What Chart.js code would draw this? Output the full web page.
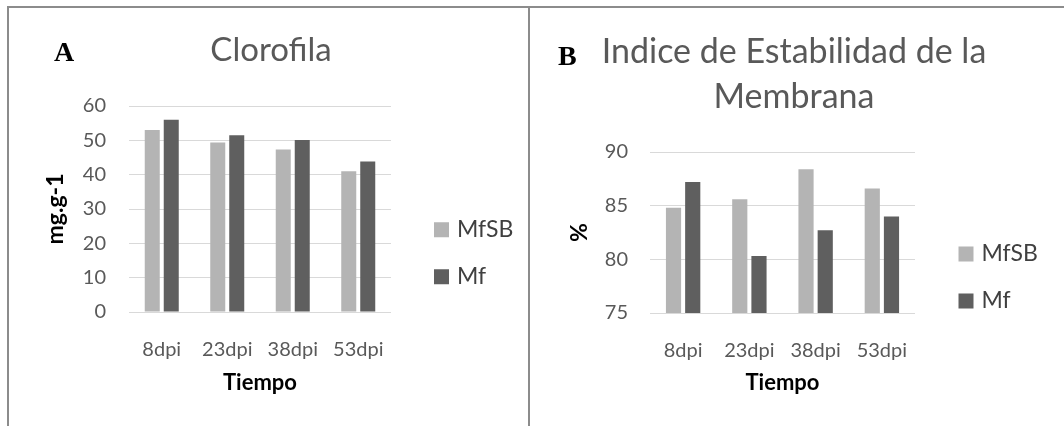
<!DOCTYPE html>
<html>
<head>
<meta charset="utf-8">
<script src="https://cdn.jsdelivr.net/npm/chart.js@4.4.0/dist/chart.umd.min.js"></script>
<style>
  body { margin: 0; background: #fff; width: 1064px; height: 426px; overflow: hidden; position: relative; }
  .frame { position: absolute; border: 0 solid #8c8c8c; }
  #frameA { left: 7px; top: 6px; width: 519px; height: 440px; border-width: 2px 2px 0 2px; }
  #frameB { left: 528px; top: 6px; width: 540px; height: 0; border-top-width: 2px; }
  canvas { position: absolute; top: 0; }
  #chartA { left: 0; }
  #chartB { left: 529px; }
  .tag { position: absolute; font: bold 28px "Liberation Serif", serif; line-height: 28px; color: #000; }
</style>
</head>
<body>
<div class="frame" id="frameA"></div>
<div class="frame" id="frameB"></div>
<canvas id="chartA" width="529" height="426"></canvas>
<canvas id="chartB" width="535" height="426"></canvas>
<div class="tag" style="left:54px;top:38px">A</div>
<div class="tag" style="left:558px;top:42px">B</div>
<script>
const categories = ['8dpi', '23dpi', '38dpi', '53dpi'];
const seriesNames = ['MfSB', 'Mf'];
const seriesColors = ['#b4b4b4', '#5f5f5f'];

// A - Clorofila (mg.g-1)
const clorofilaMfSB = [53.0, 49.4, 47.3, 41.0];
const clorofilaMf = [56.0, 51.5, 50.1, 43.8];
const clorofilaAxis = [0, 60, 10]; // min, max, paso

// B - Indice de Estabilidad de la Membrana (%)
const estabilidadMfSB = [84.8, 85.6, 88.4, 86.6];
const estabilidadMf = [87.2, 80.3, 82.7, 84.0];
const estabilidadAxis = [75, 90, 5];

const tickColor = '#595959';
const font = 'Lato';

// mueve leyenda y titulo despues del layout
const nudge = {
    id: 'nudge',
    afterLayout(chart, args, opts) {
        const l = chart.legend, t = chart.titleBlock;
        if (l && opts.legend) {
            l.left += opts.legend[0];
            l.right += opts.legend[0] + 40; // espacio para el texto
            l.width = l.right - l.left;
            l.top += opts.legend[1]; l.bottom += opts.legend[1];
        }
        if (t && opts.title) {
            t.left += opts.title[0]; t.right += opts.title[0];
        }
    }
};

function buildChart(id, o) {
    return new Chart(document.getElementById(id), {
        type: 'bar',
        data: {
            labels: categories,
            datasets: [
                { label: seriesNames[0], data: o.a, backgroundColor: seriesColors[0] },
                { label: seriesNames[1], data: o.b, backgroundColor: seriesColors[1] }
            ]
        },
        options: {
            responsive: false,
            animation: false,
            categoryPercentage: 0.58,
            barPercentage: 0.79,
            layout: { padding: { left: 0, top: 0, bottom: 0, right: o.padRight } },
            plugins: {
                title: {
                    display: true,
                    text: o.title,
                    color: '#595959',
                    font: { family: font, size: o.titleSize, weight: 'normal', lineHeight: o.titleLH },
                    padding: o.titlePad
                },
                legend: {
                    position: 'right',
                    maxWidth: 90,
                    labels: {
                        color: '#404040',
                        font: { family: font, size: 23 },
                        boxWidth: 8,
                        boxHeight: 8,
                        padding: 24,
                        generateLabels(chart) {
                            return Chart.defaults.plugins.legend.labels.generateLabels(chart).map(function (it) {
                                it.lineWidth = 7;
                                it.strokeStyle = it.fillStyle;
                                return it;
                            });
                        }
                    }
                },
                tooltip: { enabled: false },
                nudge: { legend: o.legendShift, title: o.titleShift }
            },
            scales: {
                x: {
                    grid: { display: false },
                    border: { display: false },
                    ticks: { color: tickColor, font: { family: font, size: 20 }, padding: 17.5 },
                    title: {
                        display: true, text: 'Tiempo', color: '#000',
                        font: { family: font, size: 22, weight: 'bold' },
                        padding: { top: 0, bottom: 30.3 }
                    },
                    afterFit(s) { s.height = o.xHeight; }
                },
                y: {
                    min: o.axis[0],
                    max: o.axis[1],
                    ticks: { stepSize: o.axis[2], color: tickColor, font: { family: font, size: 20 }, padding: o.yPad },
                    grid: { color: '#d9d9d9', lineWidth: 1, drawTicks: false },
                    border: { display: false },
                    title: {
                        display: true, text: o.yTitle, color: '#000',
                        font: { family: font, size: 23, weight: 'bold' },
                        padding: { top: o.yTitlePad, bottom: 0 }
                    },
                    afterFit(s) { s.width = o.yWidth; }
                }
            }
        },
        plugins: [nudge]
    });
}

buildChart('chartA', {
    a: clorofilaMfSB, b: clorofilaMf, axis: clorofilaAxis,
    title: 'Clorofila', titleSize: 33, titleLH: 1.2, titlePad: { top: 30.7, bottom: 35.7 },
    yTitle: 'mg.g-1', yTitlePad: 42.2, yWidth: 129, yPad: 23,
    xHeight: 114, padRight: 48,
    legendShift: [22.5, 40.2], titleShift: [30.5, 0]
});

buildChart('chartB', {
    a: estabilidadMfSB, b: estabilidadMf, axis: estabilidadAxis,
    title: ['Indice de Estabilidad de la', 'Membrana'], titleSize: 34, titleLH: 45 / 34, titlePad: { top: 29.5, bottom: 32.5 },
    yTitle: '%', yTitlePad: 36.7, yWidth: 121, yPad: 22,
    xHeight: 113, padRight: 59,
    legendShift: [23, 64.5], titleShift: [27, 0]
});
</script>
</body>
</html>
